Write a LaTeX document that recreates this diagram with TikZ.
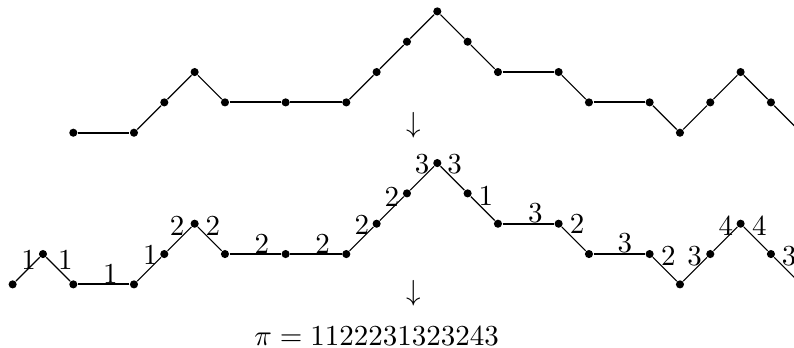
\documentclass[tikz,border=0pt]{standalone}
\begin{document}
\begin{tikzpicture}[x=10.46pt,y=10.46pt,
  dot/.style={circle,fill=black,inner sep=0pt,minimum size=2.8pt},
  hseg/.style={line width=0.7pt},
  dseg/.style={line width=0.4pt},
  lab/.style={inner sep=0pt}]
\useasboundingbox (-2.417,-7.066) rectangle (23.76,4.375);
\clip (-2.417,-7.066) rectangle (23.76,4.375);
% top path
\foreach \n/\x/\y in {0/0/0,1/2/0,2/3/1,3/4/2,4/5/1,5/7/1,6/9/1,7/10/2,8/11/3,9/12/4,10/13/3,11/14/2,12/16/2,13/17/1,14/19/1,15/20/0,16/21/1,17/22/2,18/23/1}
  \node[dot] (t\n) at (\x,\y) {};
\coordinate (tEnd) at (24,0);
\draw[hseg] (t0) -- (t1);
\draw[hseg] (t4) -- (t5);
\draw[hseg] (t5) -- (t6);
\draw[hseg] (t11) -- (t12);
\draw[hseg] (t13) -- (t14);
\draw[dseg] (t1) -- (t2);
\draw[dseg] (t2) -- (t3);
\draw[dseg] (t3) -- (t4);
\draw[dseg] (t6) -- (t7);
\draw[dseg] (t7) -- (t8);
\draw[dseg] (t8) -- (t9);
\draw[dseg] (t9) -- (t10);
\draw[dseg] (t10) -- (t11);
\draw[dseg] (t12) -- (t13);
\draw[dseg] (t14) -- (t15);
\draw[dseg] (t15) -- (t16);
\draw[dseg] (t16) -- (t17);
\draw[dseg] (t17) -- (t18);
\draw[dseg] (t18) -- (tEnd);
% bottom path
\foreach \n/\x/\y in {0/-2/-5,1/-1/-4,2/0/-5,3/2/-5,4/3/-4,5/4/-3,6/5/-4,7/7/-4,8/9/-4,9/10/-3,10/11/-2,11/12/-1,12/13/-2,13/14/-3,14/16/-3,15/17/-4,16/19/-4,17/20/-5,18/21/-4,19/22/-3,20/23/-4}
  \node[dot] (b\n) at (\x,\y) {};
\coordinate (bEnd) at (24,-5);
\draw[dseg] (b0) -- (b1);
\draw[dseg] (b1) -- (b2);
\draw[hseg] (b2) -- (b3);
\draw[dseg] (b3) -- (b4);
\draw[dseg] (b4) -- (b5);
\draw[dseg] (b5) -- (b6);
\draw[hseg] (b6) -- (b7);
\draw[hseg] (b7) -- (b8);
\draw[dseg] (b8) -- (b9);
\draw[dseg] (b9) -- (b10);
\draw[dseg] (b10) -- (b11);
\draw[dseg] (b11) -- (b12);
\draw[dseg] (b12) -- (b13);
\draw[hseg] (b13) -- (b14);
\draw[dseg] (b14) -- (b15);
\draw[hseg] (b15) -- (b16);
\draw[dseg] (b16) -- (b17);
\draw[dseg] (b17) -- (b18);
\draw[dseg] (b18) -- (b19);
\draw[dseg] (b19) -- (b20);
\draw[dseg] (b20) -- (bEnd);
% labels
\node[lab] (l1) at ([shift={(-0.47,-0.19)}]b1) {1};
\node[lab] (l2) at ([shift={(0.74,-0.19)}]b1) {1};
\node[lab] (l3) at ([shift={(1.22,0.36)}]b2) {1};
\node[lab] (l4) at ([shift={(-0.46,-0.03)}]b4) {1};
\node[lab] (l5) at ([shift={(-0.58,-0.08)}]b5) {2};
\node[lab] (l6) at ([shift={(0.6,-0.08)}]b5) {2};
\node[lab] (l7) at ([shift={(1.22,0.32)}]b6) {2};
\node[lab] (l8) at ([shift={(1.22,0.32)}]b7) {2};
\node[lab] (l9) at ([shift={(-0.49,-0.04)}]b9) {2};
\node[lab] (l10) at ([shift={(-0.5,-0.12)}]b10) {2};
\node[lab] (l11) at ([shift={(-0.5,-0.05)}]b11) {3};
\node[lab] (l12) at ([shift={(0.57,-0.05)}]b11) {3};
\node[lab] (l13) at ([shift={(0.6,-0.07)}]b12) {1};
\node[lab] (l14) at ([shift={(1.23,0.34)}]b13) {3};
\node[lab] (l15) at ([shift={(0.61,0)}]b14) {2};
\node[lab] (l16) at ([shift={(1.18,0.36)}]b15) {3};
\node[lab] (l17) at ([shift={(0.62,-0.06)}]b16) {2};
\node[lab] (l18) at ([shift={(-0.52,-0.06)}]b18) {3};
\node[lab] (l19) at ([shift={(-0.49,-0.06)}]b19) {4};
\node[lab] (l20) at ([shift={(0.62,-0.06)}]b19) {4};
\node[lab] (l21) at ([shift={(0.6,-0.06)}]b20) {3};
% arrows and result
\node[lab] (a1) at (11.21,0.24) {$\downarrow$};
\node[lab] (a2) at (11.21,-5.28) {$\downarrow$};
\node[lab,anchor=base] (pi) at (10,-7.0) {$\pi = 1122231323243$};
\end{tikzpicture}
\end{document}
